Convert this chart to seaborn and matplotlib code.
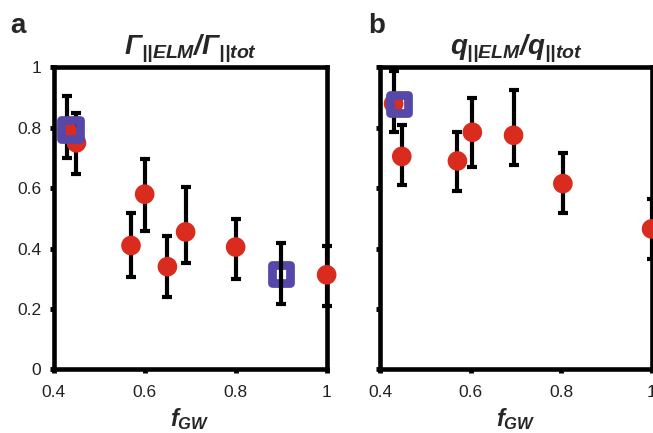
import matplotlib
matplotlib.use("Agg")
import matplotlib.pyplot as plt
from matplotlib.markers import MarkerStyle
import seaborn as sns

# panel a: Gamma_ELM / Gamma_tot
a_fgw = [0.43, 0.45, 0.57, 0.60, 0.65, 0.69, 0.80, 1.00]
a_val = [0.79, 0.75, 0.41, 0.58, 0.34, 0.455, 0.405, 0.313]
a_lo = [0.70, 0.648, 0.307, 0.459, 0.239, 0.352, 0.299, 0.209]
a_hi = [0.904, 0.849, 0.518, 0.698, 0.44, 0.605, 0.497, 0.407]
a_sq_fgw = [0.437, 0.90]
a_sq_val = [0.794, 0.316]
a_sq_lo = [None, 0.215]
a_sq_hi = [None, 0.417]

# panel b: q_ELM / q_tot
b_fgw = [0.43, 0.448, 0.571, 0.604, 0.695, 0.804, 1.00]
b_val = [0.88, 0.705, 0.69, 0.785, 0.775, 0.615, 0.465]
b_lo = [0.786, 0.609, 0.592, 0.669, 0.676, 0.518, 0.365]
b_hi = [0.989, 0.808, 0.787, 0.900, 0.925, 0.717, 0.564]
b_sq_fgw = [0.441]
b_sq_val = [0.878]

red = '#d92b1e'
blue = '#5548a8'

sns.set_style('white')
plt.rcParams['font.family'] = ['Liberation Sans', 'DejaVu Sans']
plt.rcParams['mathtext.fontset'] = 'custom'
plt.rcParams['mathtext.rm'] = 'Liberation Sans:bold:italic'
plt.rcParams['mathtext.it'] = 'Liberation Sans:bold:italic'
plt.rcParams['mathtext.bf'] = 'Liberation Sans:bold:italic'

fig = plt.figure(figsize=(6.53, 4.33), dpi=100)
ax_a = fig.add_axes([0.0822, 0.147, 0.418, 0.6975])
ax_b = fig.add_axes([0.582, 0.147, 0.4158, 0.6975])

sq_marker = MarkerStyle('s', joinstyle='round')


def draw_panel(ax, fgw, val, lo, hi):
    yerr = [[v - l for v, l in zip(val, lo)], [h - v for v, h in zip(val, hi)]]
    eb = ax.errorbar(fgw, val, yerr=yerr, fmt='none', ecolor='black',
                     elinewidth=3, capsize=3.6, capthick=3, zorder=2)
    for art in eb.lines[1] + eb.lines[2]:
        art.set_clip_on(False)
    sns.scatterplot(x=fgw, y=val, ax=ax, color=red, s=200, edgecolor='none',
                    zorder=3, clip_on=False, legend=False)


def style_axes(ax, title, show_ylabels):
    ax.set_xlim(0.4, 1.0)
    ax.set_ylim(0, 1.0)
    ax.set_xticks([0.4, 0.6, 0.8, 1.0])
    ax.set_xticklabels(['0.4', '0.6', '0.8', '1'])
    ax.set_yticks([0, 0.2, 0.4, 0.6, 0.8, 1.0])
    if show_ylabels:
        ax.set_yticklabels(['0', '0.2', '0.4', '0.6', '0.8', '1'])
    else:
        ax.set_yticklabels([])
    for sp in ax.spines.values():
        sp.set_visible(True)
        sp.set_linewidth(3.3)
        sp.set_color('black')
        sp.set_zorder(1)
    ax.tick_params(axis='both', direction='out', length=3, width=3.5,
                   color='black', labelsize=12.5, labelcolor='#222222',
                   left=True, bottom=True)
    ax.tick_params(axis='x', pad=8)
    ax.tick_params(axis='y', pad=6)
    ax.set_title(title, fontsize=20, pad=9)
    ax.set_xlabel(r'$f_{GW}$', fontsize=17, labelpad=5)


# panel a
draw_panel(ax_a, a_fgw, a_val, a_lo, a_hi)
ax_a.scatter(a_sq_fgw, a_sq_val, marker=sq_marker, s=170,
             facecolors=['none', 'white'], edgecolors=blue, linewidths=6.3,
             zorder=4)
sq_err = [[a_sq_val[1] - a_sq_lo[1]], [a_sq_hi[1] - a_sq_val[1]]]
ax_a.errorbar([a_sq_fgw[1]], [a_sq_val[1]], yerr=sq_err, fmt='none',
              ecolor='black', elinewidth=3, capsize=3.6, capthick=3, zorder=5)
style_axes(ax_a, r'$\Gamma_{||ELM}/\Gamma_{||tot}$', True)

# panel b
draw_panel(ax_b, b_fgw, b_val, b_lo, b_hi)
ax_b.scatter(b_sq_fgw, b_sq_val, marker=sq_marker, s=170,
             facecolors='none', edgecolors=blue, linewidths=6.3, zorder=4)
style_axes(ax_b, r'$q_{||ELM}/q_{||tot}$', False)

fig.text(0.015, 0.924, 'a', fontsize=20, fontweight='bold')
fig.text(0.564, 0.924, 'b', fontsize=20, fontweight='bold')

fig.savefig('out.png', dpi=100)
